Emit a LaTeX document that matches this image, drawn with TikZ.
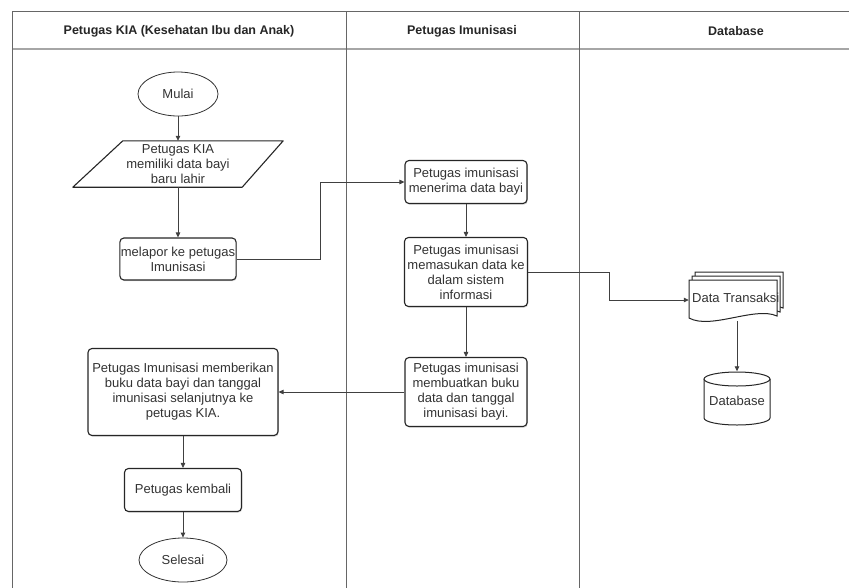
\documentclass[tikz,border=0pt]{standalone}
\usepackage{fontspec}
\setmainfont{Liberation Sans}
\usetikzlibrary{shapes.geometric,arrows.meta,calc,shadows}
\begin{document}
\begin{tikzpicture}[x=1pt,y=-1pt,
  lane/.style={draw=black!60, line width=0.9pt},
  hline/.style={draw=black!35, line width=1.2pt},
  hdr/.style={font=\fontsize{12.5}{15}\selectfont\bfseries, text=black!85},
  txt/.style={align=center, inner sep=1pt, font=\fontsize{13}{15}\selectfont, text=black!80},
  proc/.style={txt, draw=black!85, line width=1.1pt, rounded corners=4pt, fill=white,
    drop shadow={opacity=0.3, shadow xshift=0.8pt, shadow yshift=-1.2pt}},
  term/.style={txt, ellipse, draw=black!80, line width=0.8pt, fill=white},
  shp/.style={draw=black!85, line width=1.1pt, fill=white},
  flow/.style={draw=black!75, line width=0.8pt, -{Triangle[length=5pt,width=4.5pt]}},
  plain/.style={draw=black!75, line width=0.8pt}]
\useasboundingbox (0,0) rectangle (849,587);
\clip (0,0) rectangle (849,587);

% swimlanes
\draw[hline] (12,49) -- (900,49);
\draw[lane] (12,600) -- (12,11) -- (900,11);
\draw[lane] (346,11) -- (346,600);
\draw[lane] (579,11) -- (579,600);
\node[hdr] (h1) at (179,31) {Petugas KIA (Kesehatan Ibu dan Anak)};
\node[hdr] (h2) at (462,31) {Petugas Imunisasi};
\node[hdr] (h3) at (736,31) {Database};

% lane 1
\node[term, minimum width=80pt, minimum height=44pt] (mulai) at (178,94) {Mulai};
\node[minimum width=210pt, minimum height=46pt, inner sep=0pt] (p) at (178,164) {};
\draw[shp, line join=round] (p.south west) -- ($(p.north west)+(50,0)$) -- (p.north east)
  -- ($(p.south east)+(-41,0)$) -- cycle;
\node[txt] (ptxt) at (p) {Petugas KIA\\memiliki data bayi\\baru lahir};
\node[proc, minimum width=115pt, minimum height=42pt] (melapor) at (178,259)
  {melapor ke petugas\\Imunisasi};
\node[proc, minimum width=190pt, minimum height=87pt] (beri) at (183,392)
  {Petugas Imunisasi memberikan\\buku data bayi dan tanggal\\imunisasi selanjutnya ke\\petugas KIA.};
\node[proc, minimum width=117pt, minimum height=43pt] (kembali) at (183,490) {Petugas kembali};
\node[term, minimum width=88pt, minimum height=44pt] (selesai) at (183,560) {Selesai};

% lane 2
\node[proc, minimum width=122pt, minimum height=43pt] (terima) at (466,182)
  {Petugas imunisasi\\menerima data bayi};
\node[proc, minimum width=123pt, minimum height=69pt] (masuk) at (466,272)
  {Petugas imunisasi\\memasukan data ke\\dalam sistem\\informasi};
\node[proc, minimum width=122pt, minimum height=69pt] (buat) at (466,392)
  {Petugas imunisasi\\membuatkan buku\\data dan tanggal\\imunisasi bayi.};

% lane 3: document stack
\coordinate (dtorg) at (689,280);
\foreach \d in {6,3,0}{
  \draw[shp, line width=1pt, shift={($(dtorg)+(\d,-\d*4/3)$)}]
    (0,0) -- (88,0) -- (88,36) .. controls (66,26) and (22,50) .. (0,38) -- cycle;
}
\node[minimum width=88pt, minimum height=40pt, inner sep=0pt] (dt) at (733,300) {};
\node[txt, anchor=west] (dtl) at (691,298) {Data Transaksi};

% database cylinder
\node[minimum width=66pt, minimum height=53pt, inner sep=0pt] (db) at (737,398) {};
\draw[shp, line width=1pt] (704,379) -- (704,418) arc[start angle=180, end angle=360, x radius=33pt, y radius=7pt]
  -- (770,379);
\draw[shp, line width=1pt] (737,379) ellipse [x radius=33pt, y radius=7pt];
\node[txt] (dbl) at (737,401) {Database};

% connectors
\coordinate (k1) at (320,0);
\coordinate (k2) at (609,0);
\coordinate (dtbot) at (737,321);
\draw[flow] (mulai.south) -- (p.north);
\draw[flow] (p.south) -- (melapor.north);
\draw[flow] (melapor.east) -- (melapor.east -| k1) |- (terima.west);
\draw[flow] (terima.south) -- (masuk.north);
\draw[flow] (masuk.south) -- (buat.north);
\draw[flow] (masuk.east) -- (masuk.east -| k2) |- (dt.west);
\draw[flow] (dtbot) -- (db.north);
\draw[flow] (buat.west) -- (beri.east);
\draw[flow] (beri.south) -- (kembali.north);
\draw[flow] (kembali.south) -- (selesai.north);
\end{tikzpicture}
\end{document}
